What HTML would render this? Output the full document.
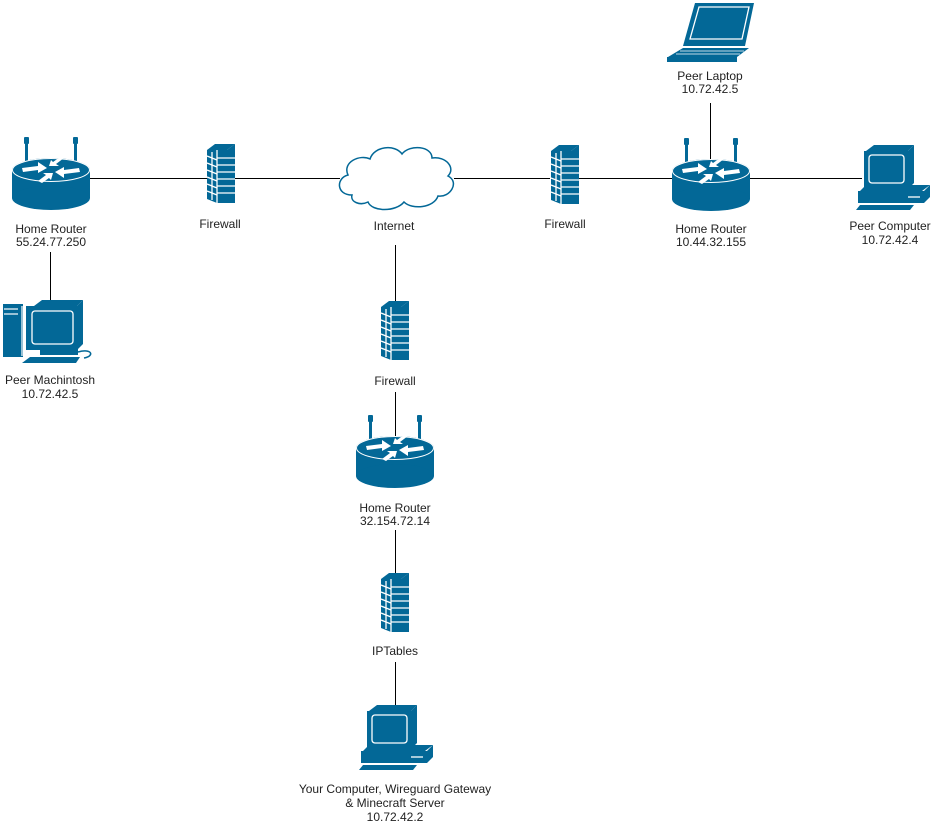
<!DOCTYPE html>
<html><head><meta charset="utf-8"><style>
html,body{margin:0;padding:0;background:#fff;}
svg{display:block;}
text{font-family:"Liberation Sans",Arial,sans-serif;font-size:12px;fill:#222;text-anchor:middle;}
</style></head><body>
<svg width="931" height="825" viewBox="0 0 931 825" xmlns="http://www.w3.org/2000/svg">
<defs>
<g id="router">
  <rect x="13" y="0" width="3" height="28" fill="#036897"/>
  <rect x="12" y="0" width="5" height="7" rx="1" fill="#036897"/>
  <rect x="62" y="0" width="3" height="28" fill="#036897"/>
  <rect x="61" y="0" width="5" height="7" rx="1" fill="#036897"/>
  <rect x="0" y="33" width="78" height="28" fill="#036897"/>
  <ellipse cx="39" cy="61" rx="39" ry="12" fill="#036897"/>
  <ellipse cx="39" cy="33" rx="39" ry="12" fill="#036897"/>
  <ellipse cx="39" cy="33" rx="38.5" ry="11.5" fill="none" stroke="#fff" stroke-width="1"/>
  <g fill="#fff">
    <polygon points="10,31 26,29 26,25 35,31 26,36 26,33 11,35"/>
    <polygon points="68,35 52,37 52,41 43,35 52,30 52,33 67,31"/>
    <polygon points="26,44 34,38 31,36 41,36 39,43 37,41 30,46"/>
    <polygon points="52,21 44,27 47,29 37,29 39,23 41,25 48,20"/>
  </g>
</g>
<g id="fw">
  <polygon points="0,6 8,0 28,0 20,6" fill="#036897"/>
  <polygon points="0,6 10,6 10,59 0,55" fill="#036897"/>
  <rect x="10" y="6" width="18" height="53" fill="#036897"/>
  <polygon points="20,6 28,0 28,6" fill="#036897"/>
  <g stroke="#fff" stroke-width="1.3">
    <line x1="10" y1="6" x2="10" y2="59"/>
    <line x1="10" y1="14" x2="28" y2="14"/><line x1="10" y1="21" x2="28" y2="21"/>
    <line x1="10" y1="28" x2="28" y2="28"/><line x1="10" y1="35" x2="28" y2="35"/>
    <line x1="10" y1="42" x2="28" y2="42"/><line x1="10" y1="49" x2="28" y2="49"/>
    <line x1="0" y1="12" x2="10" y2="16"/><line x1="0" y1="19" x2="10" y2="23"/>
    <line x1="0" y1="26" x2="10" y2="30"/><line x1="0" y1="33" x2="10" y2="37"/>
    <line x1="0" y1="40" x2="10" y2="44"/><line x1="0" y1="47" x2="10" y2="51"/>
    <line x1="5" y1="8" x2="5" y2="56"/>
  </g>
</g>
<g id="pc">
  <polygon points="14,6 22,0 62,0 56,6" fill="#036897"/>
  <polygon points="56,6 62,0 62,38 56,44" fill="#036897"/>
  <rect x="12" y="6" width="45" height="38" fill="#036897"/>
  <rect x="17" y="10" width="35" height="28" rx="3" fill="none" stroke="#fff" stroke-width="1.3"/>
  <polygon points="8,46 70,46 78,40 14,40" fill="#036897"/>
  <rect x="6" y="46" width="66" height="12" fill="#036897"/>
  <polygon points="72,46 78,40 78,52 72,58" fill="#036897"/>
  <line x1="56" y1="52" x2="68" y2="52" stroke="#fff" stroke-width="1.3"/>
  <polygon points="8,60 62,60 58,65 4,65" fill="#036897"/>
</g>
</defs>

<g stroke="#000" stroke-width="1" fill="none">
  <line x1="90" y1="178.5" x2="207" y2="178.5"/>
  <line x1="235" y1="178.5" x2="340" y2="178.5"/>
  <line x1="454" y1="178.5" x2="550" y2="178.5"/>
  <line x1="578" y1="178.5" x2="672" y2="178.5"/>
  <line x1="750" y1="178.5" x2="862" y2="178.5"/>
  <line x1="710.5" y1="103" x2="710.5" y2="163"/>
  <line x1="50.5" y1="252" x2="50.5" y2="303"/>
  <line x1="395.5" y1="245" x2="395.5" y2="301"/>
  <line x1="395.5" y1="392" x2="395.5" y2="443"/>
  <line x1="395.5" y1="530" x2="395.5" y2="573"/>
  <line x1="395.5" y1="662" x2="395.5" y2="706"/>
</g>

<use href="#router" x="12" y="137"/>
<use href="#router" x="672" y="138"/>
<use href="#router" x="356" y="415"/>

<use href="#fw" x="207" y="144"/>
<use href="#fw" x="551" y="145"/>
<use href="#fw" x="381" y="301"/>
<use href="#fw" x="381" y="573"/>

<path d="M352,195 C336,195 336,178 348,175 C342,162 360,154 370,159 C374,146 395,144 402,154 C410,144 432,146 432,158 C446,156 456,168 448,176 C460,182 450,198 438,196 C434,208 412,210 404,202 C396,212 372,212 368,202 C360,206 350,202 352,195 Z" fill="#fff" stroke="#036897" stroke-width="1.5"/>

<polygon points="695,3 754,3 745,46 683,46" fill="#036897"/>
<polygon points="699,7 749,7 742,39 690,39" fill="none" stroke="#fff" stroke-width="1.3"/>
<polygon points="683,48 749,48 737,57 668,57" fill="#036897"/>
<g stroke="#fff" stroke-width="0.7"><line x1="680" y1="51" x2="744" y2="51"/><line x1="676" y1="54" x2="740" y2="54"/></g>
<rect x="667" y="57" width="70" height="5" fill="#036897"/>

<use href="#pc" x="852" y="145"/>
<use href="#pc" x="355" y="705"/>

<rect x="3" y="304" width="20" height="53" fill="#036897"/>
<g stroke="#fff" stroke-width="1.2"><line x1="4" y1="309" x2="18" y2="309"/><line x1="4" y1="314" x2="18" y2="314"/><line x1="22" y1="306" x2="22" y2="356"/></g>
<polygon points="34,306 42,300 83,300 77,306" fill="#036897"/>
<polygon points="77,306 83,300 83,344 77,350" fill="#036897"/>
<rect x="26" y="306" width="52" height="44" fill="#036897"/>
<rect x="32" y="311" width="41" height="33" rx="3" fill="none" stroke="#fff" stroke-width="1.3"/>
<rect x="40" y="350" width="38" height="5" fill="#036897"/>
<polygon points="30,357 80,357 76,363 22,363" fill="#036897"/>
<path d="M78,352 C92,348 95,356 84,358" fill="none" stroke="#036897" stroke-width="1.5"/>

<text x="51" y="233">Home Router</text>
<text x="51" y="246">55.24.77.250</text>
<text x="220" y="228">Firewall</text>
<text x="394" y="230">Internet</text>
<text x="565" y="228">Firewall</text>
<text x="711" y="233">Home Router</text>
<text x="711" y="246">10.44.32.155</text>
<text x="710" y="80">Peer Laptop</text>
<text x="710" y="93">10.72.42.5</text>
<text x="890" y="230">Peer Computer</text>
<text x="890" y="244">10.72.42.4</text>
<text x="50" y="384">Peer Machintosh</text>
<text x="50" y="398">10.72.42.5</text>
<text x="395" y="385">Firewall</text>
<text x="395" y="512">Home Router</text>
<text x="395" y="525">32.154.72.14</text>
<text x="395" y="655">IPTables</text>
<text x="395" y="793">Your Computer, Wireguard Gateway</text>
<text x="395" y="807">&amp; Minecraft Server</text>
<text x="395" y="821">10.72.42.2</text>
</svg>
</body></html>
